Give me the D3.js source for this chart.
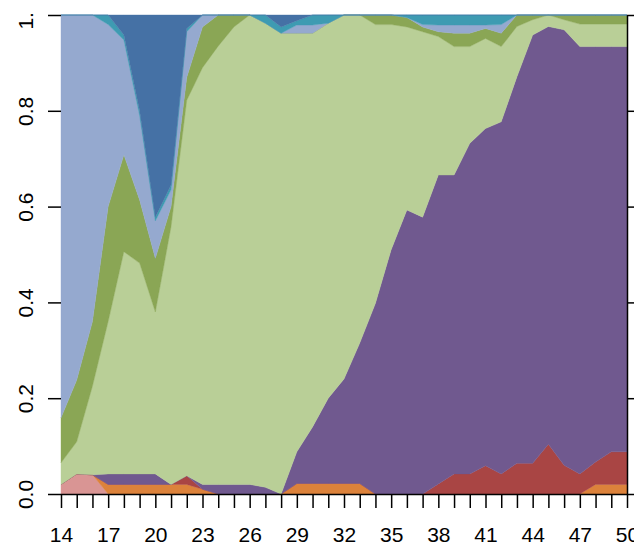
<!DOCTYPE html>
<html><head><meta charset="utf-8">
<script src="https://cdn.jsdelivr.net/npm/d3@7"></script>
<style>html,body{margin:0;padding:0;background:#fff;overflow:hidden}</style>
</head><body>
<svg id="c" width="634" height="547"></svg>
<script>
const years = d3.range(14, 51);
const pink =      [.02,.042,.04,0,0,0,0,0,0,0,0,0,0,0,0,0,0,0,0,0,0,0,0,0,0,0,0,0,0,0,0,0,0,0,0,0,0];
const orange =    [0,0,0,.02,.02,.02,.02,.02,.02,.01,0,0,0,0,0,.022,.022,.022,.022,.022,0,0,0,0,0,0,0,0,0,0,0,0,0,0,.02,.02,.02];
const red =       [0,0,0,0,0,0,0,0,.018,0,0,0,0,0,0,0,0,0,0,0,0,0,0,0,.021,.042,.042,.059,.042,.064,.064,.104,.06,.042,.047,.068,.068];
const purple =    [0,0,0,.022,.022,.022,.022,0,0,.01,.02,.02,.02,.014,0,.066,.118,.178,.218,.293,.398,.51,.593,.578,.645,.624,.69,.704,.735,.807,.894,.872,.909,.892,.867,.846,.846];
const lightgreen =[.045,.067,.185,.318,.464,.44,.338,.538,.784,.87,.915,.955,.98,.969,.962,.874,.822,.783,.76,.685,.582,.47,.382,.387,.289,.268,.202,.188,.157,.105,.032,.024,.021,.047,.047,.047,.047];
const green =     [.094,.129,.135,.24,.202,.132,.112,.042,.048,.085,.065,.025,0,0,0,0,0,0,0,0,.02,.02,.02,.01,.01,.028,.028,.021,.028,.024,.01,0,.01,.019,.019,.019,.019];
const lightblue = [.841,.762,.64,.38,.24,.176,.078,.035,.095,.025,0,0,0,0,0,.017,.017,0,0,0,0,0,0,.005,.014,.017,.017,.007,.018,0,0,0,0,0,0,0,0];
const teal =      [0,0,0,.02,.01,.01,.008,.01,.007,0,0,0,0,.017,.013,.009,.021,.017,0,0,0,0,.005,.02,.021,.021,.021,.021,.02,0,0,0,0,0,0,0,0];
const darkblue =  [0,0,0,0,.042,.2,.422,.355,.028,0,0,0,0,0,.025,.012,0,0,0,0,0,0,0,0,0,0,0,0,0,0,0,0,0,0,0,0,0];

const seriesNames = ["pink","orange","red","purple","lightgreen","green","lightblue","teal","darkblue"];
const seriesData = [pink,orange,red,purple,lightgreen,green,lightblue,teal,darkblue];
const colors = ["#d99594","#dc823b","#a94544","#70598f","#b9cf97","#8aa655","#95a9cf","#3e9bb2","#4571a5"];
const xTickLabels = [14,17,20,23,26,29,32,35,38,41,44,47,50];
const yTickValues = [0,0.2,0.4,0.6,0.8,1.0];
const yTickLabels = ["0.0","0.2","0.4","0.6","0.8","1.0"];

const rows = years.map((yr,i)=>{const r={year:yr}; seriesNames.forEach((n,k)=>r[n]=seriesData[k][i]); return r;});
const stack = d3.stack().keys(seriesNames).offset(d3.stackOffsetExpand);
const layers = stack(rows);

const svg = d3.select("#c");
const x = d3.scaleLinear().domain([14,50]).range([61,627]);
const y = d3.scaleLinear().domain([0,1]).range([494,15]);

svg.append("defs").append("clipPath").attr("id","lblclip")
  .append("rect").attr("x",0).attr("y",12).attr("width",61).attr("height",535);

const area = d3.area().x(d=>x(d.data.year)).y0(d=>y(d[0])).y1(d=>y(d[1]));
svg.append("g").selectAll("path").data(layers).join("path")
  .attr("d", area).attr("fill",(d,i)=>colors[i]).attr("stroke",(d,i)=>colors[i]).attr("stroke-width",0.4);

const font = "'Liberation Sans', Arial, Helvetica, sans-serif";

// bottom axis
const bx = svg.append("g").attr("transform","translate(0,494)")
  .call(d3.axisBottom(x).tickValues(years).tickSize(14).tickFormat(d=> xTickLabels.includes(d) ? d : ""));
bx.select(".domain").attr("stroke","#000").attr("stroke-width",1.5).attr("d","M61,0.5H627");
bx.selectAll(".tick line").attr("stroke","#000").attr("stroke-width",1.5);
bx.selectAll(".tick text").attr("font-family",font).attr("font-size",21).attr("fill","#000").attr("y",48).attr("dy",0);

// left axis (ticks only)
const ly = svg.append("g").attr("transform","translate(61,0)")
  .call(d3.axisLeft(y).tickValues(yTickValues).tickSize(13).tickFormat((d,i)=>yTickLabels[i]));
ly.select(".domain").remove();
ly.selectAll(".tick line").attr("stroke","#000").attr("stroke-width",1.5);
ly.selectAll(".tick text").attr("font-family",font).attr("font-size",21).attr("fill","#000")
  .attr("x",0).attr("dy",0).attr("text-anchor","middle")
  .attr("transform","translate(-28,0) rotate(-90)");
// top label drawn inside a clip group so only "1." shows, as in the reference
ly.selectAll(".tick").filter(d=>d===1).select("text").remove();
svg.append("g").attr("clip-path","url(#lblclip)")
  .append("text").attr("font-family",font).attr("font-size",21).attr("fill","#000")
  .attr("text-anchor","middle").attr("transform",`translate(33,${y(1)}) rotate(-90)`).text(yTickLabels[5]);

// right axis
const ry = svg.append("g").attr("transform","translate(627,0)")
  .call(d3.axisRight(y).tickValues(yTickValues).tickSize(14).tickFormat(""));
ry.select(".domain").attr("stroke","#000").attr("stroke-width",1.5).attr("d","M0.5,15V494");
ry.selectAll(".tick line").attr("stroke","#000").attr("stroke-width",1.5);
</script>
</body></html>
